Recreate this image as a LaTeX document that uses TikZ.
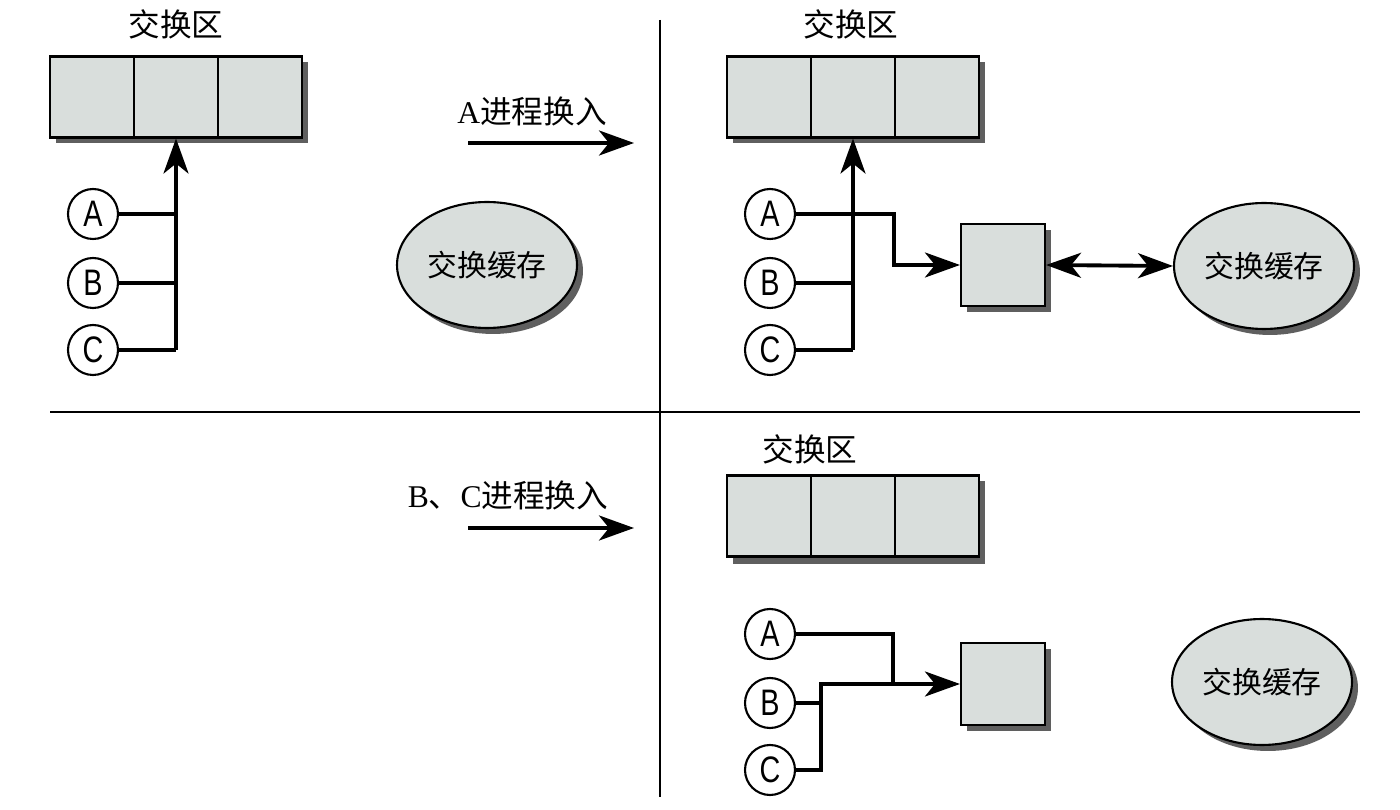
\documentclass[tikz,border=0pt]{standalone}
\usepackage{fontspec}
\setmainfont{Liberation Serif}
\newfontfamily\cjkfont{Noto Sans CJK SC}
\newfontfamily\procfont[FakeStretch=0.78]{Liberation Sans}
\usetikzlibrary{arrows.meta,shadows,shapes.geometric,positioning}

\definecolor{cellgray}{RGB}{217,222,220}
\definecolor{shadegray}{RGB}{95,95,95}

\tikzset{
    cell/.style={draw, line width=1.2pt, fill=cellgray, minimum width=1.68cm,
        minimum height=1.62cm, inner sep=0pt},
    proc/.style={circle, draw, line width=1.2pt, fill=white, minimum size=1cm,
        inner sep=0pt, font=\procfont\fontsize{21}{21}\selectfont},
    cache/.style={draw, line width=1.2pt, fill=cellgray, minimum width=1.68cm,
        minimum height=1.64cm, inner sep=0pt,
        drop shadow={shadow xshift=1.2mm, shadow yshift=-1.2mm, fill=shadegray, opacity=1}},
    buffer/.style={ellipse, draw, line width=1.2pt, fill=cellgray, minimum width=3.6cm,
        minimum height=2.52cm, inner sep=0pt, font=\cjkfont\fontsize{17}{20}\selectfont,
        drop shadow={shadow xshift=1.2mm, shadow yshift=-1.2mm, fill=shadegray, opacity=1}},
    caption/.style={font=\fontsize{18}{21}\selectfont},
    tip/.tip={Stealth[length=7mm,width=5mm,inset=2mm]},
    wire/.style={line width=2.2pt},
    bigarrow/.style={line width=2.2pt, -tip},
}

\begin{document}
\begin{tikzpicture}[x=0.02cm, y=-0.02cm]
    \useasboundingbox (0,0) rectangle (1400,810);

    % ============================================================
    % DIVIDERS
    % ============================================================
    \draw[line width=1pt] (660,20) -- (660,797);
    \draw[line width=1pt] (50,412) -- (1360,412);

    % ============================================================
    % PANEL 1: BEFORE SWAP
    % ============================================================
    \node[caption] (zoneA) at (176,24) {\cjkfont 交换区};
    \fill[shadegray] (56,62) rectangle (308,143);
    \node[cell] (zoneA1) at (92,97) {};
    \node[cell] (zoneA2) at (176,97) {};
    \node[cell] (zoneA3) at (260,97) {};

    \node[proc] (pA1) at (93,214) {A};
    \node[proc] (pB1) at (93,283) {B};
    \node[proc] (pC1) at (93,350) {C};
    \draw[wire] (pA1.east) -- (pA1.east -| zoneA2.south);
    \draw[wire] (pB1.east) -- (pB1.east -| zoneA2.south);
    \draw[wire] (pC1.east) -- (pC1.east -| zoneA2.south);
    \draw[bigarrow] (pC1.east -| zoneA2.south) -- (zoneA2.south);

    \node[buffer] (buf1) at (487,265) {交换缓存};

    % swap-in arrow
    \coordinate (inA) at (468,143);
    \coordinate (outA) at (634,143);
    \draw[bigarrow] (inA) -- (outA);
    \node[caption] (stepA) at (532,111) {A{\cjkfont 进程换入}};

    % ============================================================
    % PANEL 2: A SWAPPED IN
    % ============================================================
    \node[caption] (zoneB) at (851,24) {\cjkfont 交换区};
    \fill[shadegray] (733,62) rectangle (985,143);
    \node[cell] (zoneB1) at (769,97) {};
    \node[cell] (zoneB2) at (853,97) {};
    \node[cell] (zoneB3) at (937,97) {};

    \node[proc] (pA2) at (770,214) {A};
    \node[proc] (pB2) at (770,283) {B};
    \node[proc] (pC2) at (770,350) {C};
    \node[cache] (cache2) at (1003,265) {};
    \node[buffer] (buf2) at (1264,266) {交换缓存};

    \draw[wire] (pB2.east) -- (pB2.east -| zoneB2.south);
    \draw[wire] (pC2.east) -- (pC2.east -| zoneB2.south);
    \draw[bigarrow] (pC2.east -| zoneB2.south) -- (zoneB2.south);
    \draw[bigarrow] (pA2.east) -- ++(98,0) |- (cache2.west);
    \draw[wire, tip-tip] (cache2.east) -- (buf2.west);

    % ============================================================
    % PANEL 3: B, C SWAPPED IN
    % ============================================================
    \coordinate (inB) at (468,528);
    \coordinate (outB) at (634,528);
    \draw[bigarrow] (inB) -- (outB);
    \node[caption] (stepB) at (508,495) {B{\cjkfont 、}C{\cjkfont 进程换入}};

    \node[caption] (zoneC) at (810,449) {\cjkfont 交换区};
    \fill[shadegray] (733,481) rectangle (985,564);
    \node[cell] (zoneC1) at (769,516) {};
    \node[cell] (zoneC2) at (853,516) {};
    \node[cell] (zoneC3) at (937,516) {};

    \node[proc] (pA3) at (770,634) {A};
    \node[proc] (pB3) at (770,703) {B};
    \node[proc] (pC3) at (770,770) {C};
    \node[cache] (cache3) at (1003,684) {};
    \node[buffer] (buf3) at (1262,682) {交换缓存};

    \coordinate (joinA) at (893,684);
    \coordinate (joinBC) at (821,684);
    \draw[bigarrow] (pA3.east) -| (joinA) -- (cache3.west);
    \draw[wire] (pB3.east) -- (pB3.east -| joinBC);
    \draw[wire] (pC3.east) -| (joinBC) -- (joinA);

\end{tikzpicture}
\end{document}
